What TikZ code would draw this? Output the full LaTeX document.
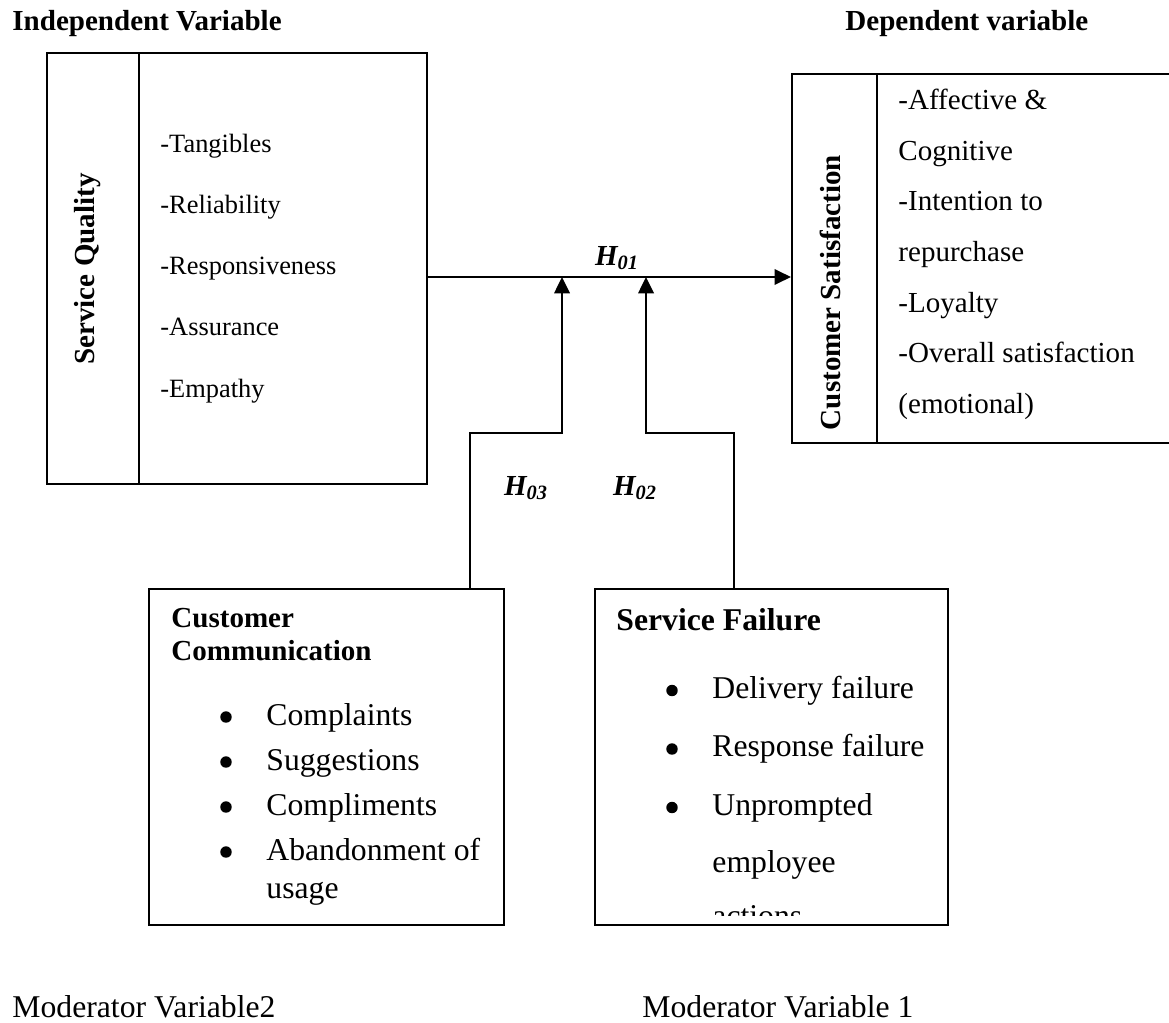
\documentclass[tikz,border=0pt]{standalone}
\usepackage{fontspec}
\setmainfont{Liberation Serif}
\usetikzlibrary{arrows.meta,positioning}
\newcommand{\px}{0.4545pt}
\newcommand{\hyp}[1]{\textbf{\textit{H\textsubscript{#1}}}}

\begin{document}
\begin{tikzpicture}[
  x=0.4545pt, y=-0.4545pt,
  box/.style   ={draw,line width=1pt,inner sep=0pt},
  sqitem/.style={anchor=base west,inner sep=0pt,font=\fontsize{12}{14}\selectfont},
  csitem/.style={anchor=base west,inner sep=0pt,font=\fontsize{13.2}{15}\selectfont},
  head/.style  ={anchor=base west,inner sep=0pt,font=\fontsize{13.2}{15}\selectfont\bfseries},
  side/.style  ={rotate=90,anchor=base,inner sep=0pt,font=\fontsize{13.2}{15}\selectfont\bfseries},
  big/.style   ={anchor=base west,inner sep=0pt,font=\fontsize{14.4}{17}\selectfont},
  dot/.style   ={circle,fill,inner sep=0pt,minimum size=5.2pt},
  hlab/.style  ={anchor=base,inner sep=0pt,font=\fontsize{13.2}{15}\selectfont},
  arr/.style   ={-{Triangle[length=7.4pt,width=7pt]},line width=1pt},
]
\useasboundingbox (0,0) rectangle (1169,1022);
\clip (0,0) rectangle (1169,1022);

% headings
\node[head] (indep) at (12,31)  {Independent Variable};
\node[head] (dep)   at (845,31) {Dependent variable};

% service quality
\node[box,minimum width=92*\px,minimum height=431*\px]  (sqhead) at (93,268.5)  {};
\node[box,minimum width=288*\px,minimum height=431*\px] (sqbody) at (283,268.5) {};
\node[side] (sqname) at (94,269) {Service Quality};
\foreach \t [count=\i] in {-Tangibles,-Reliability,-Responsiveness,-Assurance,-Empathy}
  \node[sqitem] (sq\i) at (160,{91+61.2*\i}) {\t};

% customer satisfaction
\node[box,minimum width=85*\px,minimum height=369*\px]  (cshead) at (834.5,258.5)  {};
\node[box,minimum width=323*\px,minimum height=369*\px] (csbody) at (1038.5,258.5) {};
\node[side] (csname) at (840,292.5) {Customer Satisfaction};
\foreach \t [count=\i] in {-Affective \&,Cognitive,-Intention to,repurchase,-Loyalty,-Overall satisfaction,(emotional)}
  \node[csitem] (cs\i) at (898,{59.5+50.5*\i}) {\t};

% moderators
\node[box,minimum width=355*\px,minimum height=336*\px] (ccbox) at (326.5,757) {};
\node[head] (cct1) at (171,627) {Customer};
\node[head] (cct2) at (171,660) {Communication};
\foreach \t [count=\i] in {Complaints,Suggestions,Compliments,Abandonment of}{
  \node[dot] (ccdot\i) at (226,{672+45*\i}) {};
  \node[big] (cc\i) at (266,{680+45*\i}) {\t};
}
\node[big] (cc5) at (266,898) {usage};

\node[box,minimum width=353*\px,minimum height=336*\px] (sfbox) at (771.5,757) {};
\node[big,font=\fontsize{14.4}{17}\selectfont\bfseries] (sft) at (616,630) {Service Failure};
\foreach \t [count=\i] in {Delivery failure,Response failure,Unprompted}{
  \node[dot] (sfdot\i) at (672,{632+58.5*\i}) {};
  \node[big] (sf\i) at (712,{639.5+58.5*\i}) {\t};
}
\node[big] (sf4) at (712,872) {employee};
\begin{scope}
  \clip (sfbox.north west) rectangle (948,915);
  \node[big] (sf5) at (712,926) {actions};
\end{scope}

% connectors
\coordinate (lvl)   at (0,277);
\coordinate (hit3)  at (562,277);
\coordinate (hit2)  at (646,277);
\coordinate (bend3) at (562,433);
\coordinate (bend2) at (646,433);
\coordinate (foot3) at (470,589);
\coordinate (foot2) at (734,589);

\draw[arr] (sqbody.east |- lvl) -- (cshead.west |- lvl);
\draw[arr] (foot3) |- (bend3) -- (hit3);
\draw[arr] (foot2) |- (bend2) -- (hit2);

\node[hlab] (h01) at (617,265) {\hyp{01}};
\node[hlab] (h03) at (526,495) {\hyp{03}};
\node[hlab] (h02) at (635,495) {\hyp{02}};

\node[big] (mod2) at (12,1017)  {Moderator Variable2};
\node[big] (mod1) at (642,1017) {Moderator Variable 1};
\end{tikzpicture}
\end{document}
